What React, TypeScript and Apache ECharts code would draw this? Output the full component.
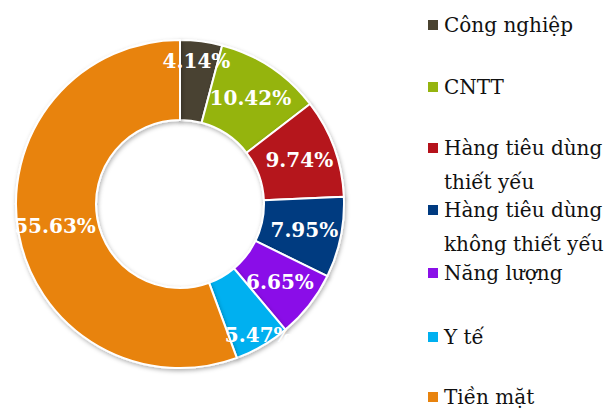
import React, { useEffect, useRef } from "react";
import * as echarts from "echarts";

const categories = [
  "Công nghiệp",
  "CNTT",
  "Hàng tiêu dùng thiết yếu",
  "Hàng tiêu dùng không thiết yếu",
  "Năng lượng",
  "Y tế",
  "Tiền mặt",
];
const legendLabels = [
  "Công nghiệp",
  "CNTT",
  "\nHàng tiêu dùng\nthiết yếu",
  "\nHàng tiêu dùng\nkhông thiết yếu",
  "Năng lượng",
  "Y tế",
  "Tiền mặt",
];
const values = [4.14, 10.42, 9.74, 7.95, 6.65, 5.47, 55.63];
const colors = ["#4A4330", "#95B40F", "#B5121B", "#003A80", "#8A10E8", "#00B0F0", "#E8830E"];

// layout (not data)
const legendIconCenters = [25, 87, 148, 210, 273, 337, 397];
const labelOffsets: Record<number, number[]> = { 0: [0, -17], 5: [15, 21] };
const LINE_H = 34;

export default function App() {
  const ref = useRef<HTMLDivElement>(null);
  useEffect(() => {
    if (!ref.current) return;
    const chart = echarts.init(ref.current, null, { renderer: "svg" });
    const legends = categories.map((name, i) => {
      const nLines = legendLabels[i].split("\n").length;
      return {
        show: true,
        orient: "vertical",
        left: 426,
        top: legendIconCenters[i] - (LINE_H * nLines) / 2,
        padding: 0,
        icon: "rect",
        itemWidth: 12,
        itemHeight: 12,
        selectedMode: false,
        formatter: () => legendLabels[i],
        textStyle: {
          fontFamily: "DejaVu Serif",
          fontSize: 20,
          color: "#111",
          lineHeight: LINE_H,
        },
        data: [name],
      };
    });
    chart.setOption({
      animation: false,
      legend: legends,
      series: [
        {
          type: "pie",
          center: [180, 204],
          radius: [84, 164],
          startAngle: 90,
          clockwise: true,
          avoidLabelOverlap: false,
          itemStyle: {
            borderColor: "#fff",
            borderWidth: 2,
            shadowBlur: 4,
            shadowColor: "rgba(0,0,0,0.3)",
            shadowOffsetX: 1,
            shadowOffsetY: 2,
          },
          label: {
            show: true,
            position: "inside",
            formatter: (p: any) => p.value.toFixed(2) + "%",
            color: "#fff",
            fontFamily: "DejaVu Serif",
            fontWeight: "bold",
            fontSize: 20,
          },
          labelLine: { show: false },
          emphasis: { disabled: true },
          data: categories.map((name, i) => ({
            name,
            value: values[i],
            itemStyle: { color: colors[i] },
            label: labelOffsets[i] ? { offset: labelOffsets[i] } : undefined,
          })),
        },
      ],
    });
    return () => chart.dispose();
  }, []);
  return (
    <div
      ref={ref}
      style={{ position: "fixed", left: 0, top: 0, width: 616, height: 408, background: "#fff" }}
    />
  );
}
